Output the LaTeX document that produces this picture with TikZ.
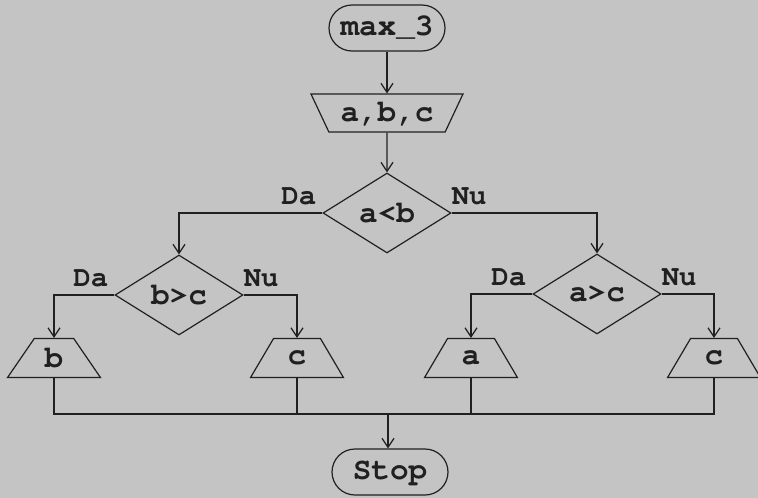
\documentclass[tikz,border=0pt]{standalone}
\usepackage[T1]{fontenc}
\usepackage{courier}
\usetikzlibrary{arrows.meta,positioning,shapes.geometric}
\definecolor{paper}{RGB}{196,196,196}
\definecolor{ink}{RGB}{32,32,32}

\begin{document}
\begin{tikzpicture}[
  x=1pt, y=-1pt,
  line/.style={draw=ink, line width=1.2pt},
  arr/.style={line, -{Straight Barb[length=9pt, width=12pt]}},
  term/.style={line, rounded corners=23pt, minimum width=116pt, minimum height=46pt, inner sep=0pt, text=ink, font=\ttfamily\bfseries\fontsize{31}{31}\selectfont},
  inbox/.style={line, trapezium, shape border rotate=180, trapezium angle=58, trapezium stretches=true, minimum width=152pt, minimum height=38pt, inner sep=0pt, text=ink, font=\ttfamily\bfseries\fontsize{31}{31}\selectfont},
  outbox/.style={line, trapezium, trapezium angle=58, trapezium stretches=true, minimum width=93pt, minimum height=39pt, inner sep=0pt, text=ink, font=\ttfamily\bfseries\fontsize{31}{31}\selectfont},
  test/.style={line, diamond, aspect=1.6, minimum width=128pt, minimum height=80pt, inner sep=0pt, text=ink, font=\ttfamily\bfseries\fontsize{31}{31}\selectfont},
  lbl/.style={inner sep=0pt, text=ink, font=\ttfamily\bfseries\fontsize{29}{29}\selectfont}
]
  \fill[paper] (0,0) rectangle (758,498);
  \useasboundingbox (0,0) rectangle (758,498);

  \node[term] (start) at (387,28) {max\_3};
  \node[inbox] (in) at (387,113) {a,b,c};
  \node[test] (ab) at (387,213) {a<b};
  \node[test] (bc) at (179,295) {b>c};
  \node[test] (ac) at (597,294) {a>c};
  \node[outbox] (outb) at (54,358) {b};
  \node[outbox] (outc) at (297,358) {c};
  \node[outbox] (outa) at (471,358) {a};
  \node[outbox] (outcc) at (714,358) {c};
  \node[term] (stop) at (390,472) {Stop};
  \coordinate (join) at (388,414);

  % yes / no labels
  \node[lbl, above left=8pt and 6pt of ab.west] (abda) {Da};
  \node[lbl, above right=8pt and 0pt of ab.east] (abnu) {Nu};
  \node[lbl, above left=8pt and 6pt of bc.west] (bcda) {Da};
  \node[lbl, above right=8pt and 0pt of bc.east] (bcnu) {Nu};
  \node[lbl, above left=8pt and 6pt of ac.west] (acda) {Da};
  \node[lbl, above right=8pt and 0pt of ac.east] (acnu) {Nu};

  \draw[arr] (start) -- (in);
  \draw[arr] (in) -- (ab);
  \draw[arr] (ab.west) -| (bc.north);
  \draw[arr] (ab.east) -| (ac.north);
  \draw[arr] (bc.west) -| (outb.north);
  \draw[arr] (bc.east) -| (outc.north);
  \draw[arr] (ac.west) -| (outa.north);
  \draw[arr] (ac.east) -| (outcc.north);

  \draw[line] (outb.south) |- (outcc.south |- join) -- (outcc.south);
  \foreach \n in {outc,outa}
    \draw[line] (\n.south) -- (\n.south |- join);
  \draw[arr] (join) -- (join |- stop.north);
\end{tikzpicture}
\end{document}
